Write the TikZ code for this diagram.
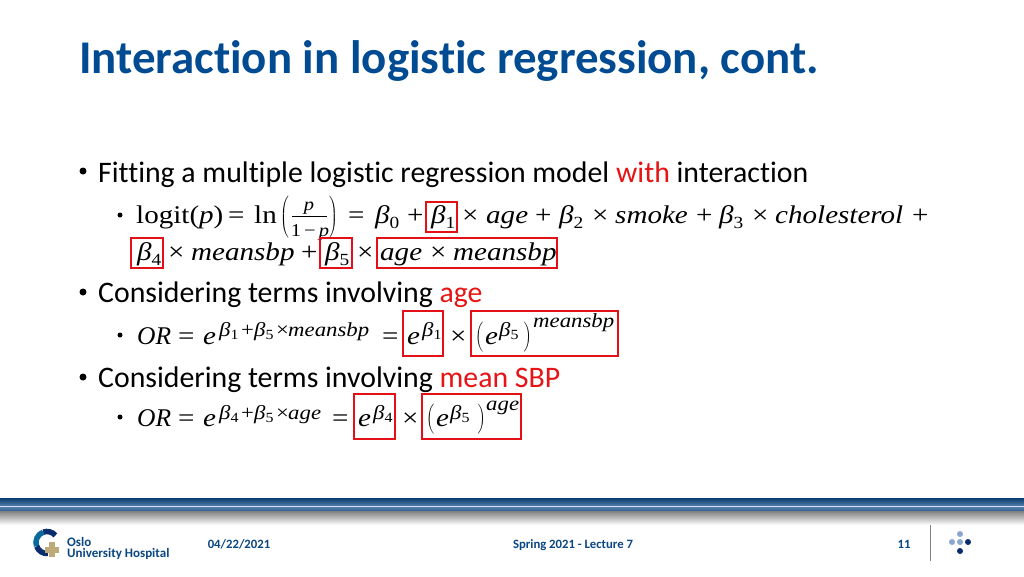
\documentclass[tikz,border=0pt]{standalone}
\usepackage{fontspec}
\setmainfont[Ligatures=NoCommon]{Carlito}
\newfontfamily\mathf[FakeStretch=1.14]{Liberation Serif}
\newfontfamily\plainf{Liberation Serif}
\definecolor{titleblue}{RGB}{0,75,145}
\definecolor{footblue}{RGB}{10,70,130}
\definecolor{eqred}{RGB}{230,20,20}
\definecolor{boxred}{RGB}{228,16,24}
\definecolor{dotlight}{RGB}{140,165,210}
\definecolor{dotdark}{RGB}{10,45,110}
\definecolor{plustan}{RGB}{190,170,120}
\newcommand{\fsz}[1]{\fontsize{#1}{#1}\selectfont}
\newcommand{\mv}[1]{{\mathf\itshape #1}}
\newcommand{\orv}{{\plainf\itshape OR}}
\newcommand{\subs}[1]{\raisebox{-0.2em}{\fsz{17}\mathf #1}}
\newcommand{\bet}[1]{\mv{β}\subs{#1}}
\newcommand{\tbet}[1]{\mv{β}\raisebox{-0.15em}{\fsz{14}\mathf #1}}
\newcommand{\lpar}[1]{$\left(\vcenter{\hbox{\rule{0pt}{#1}}}\right.$}
\newcommand{\rpar}[1]{$\left.\vcenter{\hbox{\rule{0pt}{#1}}}\right)$}
\tikzset{
  pic/.style={x=1pt,y=-1pt},
  titletext/.style={anchor=base west,inner sep=0pt,font=\fsz{46.9}\bfseries,text=titleblue},
  lone/.style={anchor=base west,inner sep=0pt,font=\fsz{29.8}},
  ltwo/.style={anchor=base west,inner sep=0pt,font=\fsz{25.5}\mathf},
  supt/.style={anchor=base west,inner sep=0pt,font=\fsz{20}\mathf},
  frac/.style={anchor=base,inner sep=0pt,font=\fsz{18}\mathf},
  parn/.style={anchor=center,inner sep=0pt,font=\fsz{22}},
  bul/.style={circle,fill=black,inner sep=0pt},
  redbox/.style={draw=boxred,line width=2pt,fill=none},
  foot/.style={anchor=base,inner sep=0pt,font=\fsz{12.7}\bfseries,text=footblue},
  logotext/.style={anchor=base west,inner sep=0pt,font=\fsz{13}\bfseries,text=footblue},
  dotA/.style={circle,fill=#1,inner sep=0pt,minimum size=6pt},
}
\begin{document}
\begin{tikzpicture}[pic]
\useasboundingbox (0,0) rectangle (1024,576);
\fill[white] (0,0) rectangle (1024,576);
\node[titletext] (title) at (79,73) {Interaction in logistic regression, cont.};
\node[bul,minimum size=7pt] (b1) at (83,171) {};
\node[lone] (l1) at (98,182) {Fitting a multiple logistic regression model \textcolor{eqred}{with} interaction};
\node[bul,minimum size=5pt] (b2) at (120,215) {};
\node[ltwo] (e1) at (136,223) {logit(\mv{p})};
\node[ltwo] (e1b) at (228,223) {=};
\node[ltwo] (e1c) at (254,223) {ln};
\node[parn] (lp) at (285,217) {\lpar{42pt}};
\node[frac] (fn) at (309,210) {\mv{p}};
\coordinate (fa) at (292,216);
\coordinate (fb) at (327,216);
\draw[line width=0.8pt] (fa) -- (fb);
\node[frac] (fd) at (310,236) {1\,−\,\mv{p}};
\node[parn] (rp) at (333,217) {\rpar{42pt}};
\node[ltwo] (e2) at (348,223) {=};
\node[ltwo] (e2b) at (375,223) {\bet{0}};
\node[ltwo] (e2c) at (407,223) {+};
\node[ltwo] (e3) at (431,223) {\bet{1}};
\node[ltwo] (e4) at (462,223) {×};
\node[ltwo] (e4b) at (486,223) {\mv{age}};
\node[ltwo] (e4c) at (535,223) {+};
\node[ltwo] (e4d) at (559,223) {\bet{2}};
\node[ltwo] (e4e) at (592,223) {×};
\node[ltwo] (e4f) at (615,223) {\mv{smoke}};
\node[ltwo] (e4g) at (696,223) {+};
\node[ltwo] (e4h) at (719,223) {\bet{3}};
\node[ltwo] (e4i) at (752,223) {×};
\node[ltwo] (e4j) at (775,223) {\mv{cholesterol}};
\node[ltwo] (e4k) at (912,223) {+};
\node[ltwo] (e5) at (137,260) {\bet{4}};
\node[ltwo] (e6) at (168,260) {×};
\node[ltwo] (e6b) at (191,260) {\mv{meansbp}};
\node[ltwo] (e6c) at (301,260) {+};
\node[ltwo] (e7) at (325,260) {\bet{5}};
\node[ltwo] (e8) at (357,260) {×};
\node[ltwo] (e9) at (380,260) {\mv{age}};
\node[ltwo] (e9b) at (430,260) {×};
\node[ltwo] (e9c) at (453,260) {\mv{meansbp}};
\node[bul,minimum size=7pt] (b3) at (83,292) {};
\node[lone] (l2) at (98,302) {Considering terms involving \textcolor{eqred}{age}};
\node[bul,minimum size=5pt] (b4) at (120,335) {};
\node[ltwo] (o1) at (137,344) {\orv};
\node[ltwo] (o1b) at (178,344) {=};
\node[ltwo] (o1c) at (203,344) {\mv{e}};
\node[supt] (o2) at (219,336) {\tbet{1}};
\node[supt] (o2b) at (241,336) {+};
\node[supt] (o2c) at (254,336) {\tbet{5}};
\node[supt] (o2d) at (276,336) {×};
\node[supt] (o2e) at (288,336) {\mv{meansbp}};
\node[ltwo] (o3) at (382,344) {=};
\node[ltwo] (o4) at (407,344) {\mv{e}};
\node[supt] (o5) at (422,336) {\tbet{1}};
\node[ltwo] (o6) at (450,344) {×};
\node[parn] (o7) at (480,337) {\lpar{30pt}};
\node[ltwo] (o8) at (485,344) {\mv{e}};
\node[supt] (o9) at (499,336) {\tbet{5}};
\node[parn] (o10) at (527,337) {\rpar{30pt}};
\node[supt] (o11) at (533,327) {\mv{meansbp}};
\node[bul,minimum size=7pt] (b5) at (83,377) {};
\node[lone] (l3) at (98,387) {Considering terms involving \textcolor{eqred}{mean SBP}};
\node[bul,minimum size=5pt] (b6) at (120,417) {};
\node[ltwo] (p1) at (137,426) {\orv};
\node[ltwo] (p1b) at (178,426) {=};
\node[ltwo] (p1c) at (203,426) {\mv{e}};
\node[supt] (p2) at (219,419) {\tbet{4}};
\node[supt] (p2b) at (241,419) {+};
\node[supt] (p2c) at (254,419) {\tbet{5}};
\node[supt] (p2d) at (276,419) {×};
\node[supt] (p2e) at (288,419) {\mv{age}};
\node[ltwo] (p3) at (332,426) {=};
\node[ltwo] (p4) at (358,426) {\mv{e}};
\node[supt] (p5) at (373,419) {\tbet{4}};
\node[ltwo] (p6) at (402,426) {×};
\node[parn] (p7) at (431,419) {\lpar{30pt}};
\node[ltwo] (p8) at (436,426) {\mv{e}};
\node[supt] (p9) at (450,419) {\tbet{5}};
\node[parn] (p10) at (481,419) {\rpar{30pt}};
\node[supt] (p11) at (486,410) {\mv{age}};
% red boxes
\draw[redbox] (426,201.7) rectangle (457,231.7);
\draw[redbox] (131,238) rectangle (163,268);
\draw[redbox] (320,238) rectangle (352,268);
\draw[redbox] (377,238) rectangle (557,268);
\draw[redbox] (403,311) rectangle (443,356);
\draw[redbox] (471,311) rectangle (618,356);
\draw[redbox] (354,394) rectangle (395,439);
\draw[redbox] (422,394) rectangle (521,439);
% footer band
\shade[top color=footblue!85!black,bottom color=footblue!70] (0,498) rectangle (1024,506);
\fill[white!85!blue] (0,506) rectangle (1024,507);
\shade[top color=footblue!70,bottom color=footblue!85] (0,507) rectangle (1024,511);
\shade[top color=black!50,bottom color=white] (0,511) rectangle (1024,525);
% logo
\draw[line width=5.5pt,dotdark] (55.4,535.4) arc (-40:-110:11);
\draw[line width=5.5pt,footblue!80!cyan] (43.2,532.2) arc (-110:-200:11);
\draw[line width=5.5pt,dotdark] (36.7,546.3) arc (-200:-275:11);
\fill[plustan] (49,542) rectangle (55,557);
\fill[plustan] (45,546.5) rectangle (59,552.5);
\node[logotext] (logoa) at (67,546) {Oslo};
\node[logotext] (logob) at (67,557) {University Hospital};
\node[foot] (date) at (239,548) {04/22/2021};
\node[foot] (lect) at (573,548) {Spring 2021 - Lecture 7};
\node[foot] (num) at (904,548) {11};
\coordinate (va) at (930,525);
\coordinate (vb) at (930,561);
\draw[gray,line width=0.8pt] (va) -- (vb);
\node[dotA=dotlight] (d1) at (960,534) {};
\node[dotA=dotlight] (d2) at (952,542) {};
\node[dotA=dotlight] (d3) at (960,542) {};
\node[dotA=dotdark] (d4) at (968,542) {};
\node[dotA=dotdark] (d5) at (960,551) {};
\end{tikzpicture}
\end{document}
